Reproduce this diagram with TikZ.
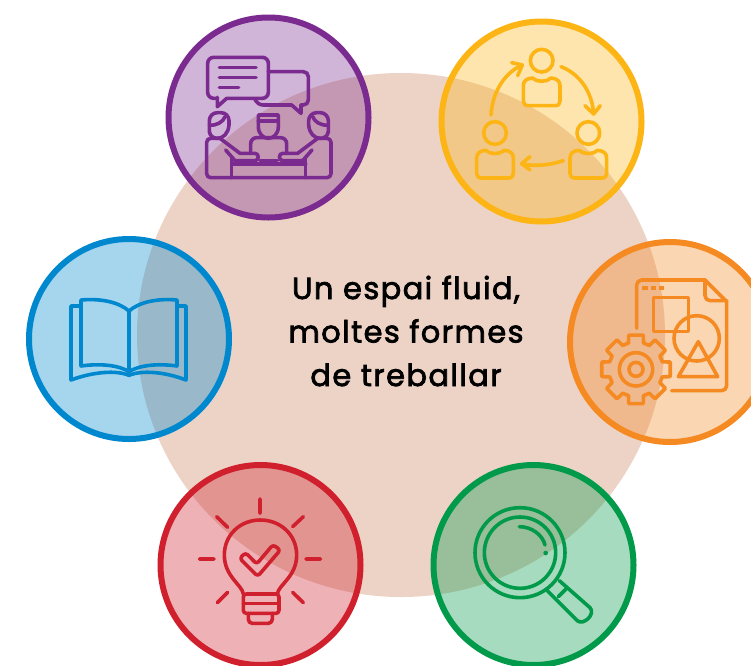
\documentclass[tikz,border=0pt]{standalone}
\usepackage{fontspec}
\setmainfont{Poppins}[FakeBold=2.4,LetterSpace=4.6]
\definecolor{beige}{HTML}{ECD3C6}
\definecolor{cpurple}{HTML}{7B2B90}
\definecolor{cyellow}{HTML}{FDB515}
\definecolor{corange}{HTML}{F58A23}
\definecolor{cred}{HTML}{D0202E}
\definecolor{cgreen}{HTML}{009A4A}
\definecolor{cblue}{HTML}{0088CF}
\tikzset{
  disc/.style={draw=#1,line width=6pt,fill=none},
  tint/.style={fill=#1,fill opacity=.35,draw=none},
  icon/.style={draw=#1,line width=3.6pt,line join=round,line cap=round},
}
\begin{document}
\begin{tikzpicture}[x=1pt,y=-1pt]
\useasboundingbox (0,0) rectangle (751,665);
\fill[white] (0,0) rectangle (751,665);
\clip (0,0) rectangle (751,665);
\fill[beige] (401,335) ellipse[x radius=264,y radius=262];

% tinted discs
\foreach \cx/\cy/\c in {268.5/117.5/cpurple,541.5/121.5/cyellow,670/342/corange,260.5/565/cred,533.5/565/cgreen,129/339/cblue}{
  \fill[tint=\c] (\cx,\cy) circle[radius=100];
  \draw[disc=\c] (\cx,\cy) circle[radius=100];
}

% purple: meeting
\begin{scope}[xshift=160pt,yshift=-10pt,x=0.33333pt,y=-0.33333pt,icon=cpurple]
  \draw[rounded corners=6pt] (172,265) -- (143,265) -- (143,142) -- (325,142) -- (325,265) -- (200,265);
  \draw (172,262) -- (172,290) -- (200,265);
  \draw (178,172) -- (288,172) (178,202) -- (288,202) (178,232) -- (236,232);
  \draw[rounded corners=5pt] (325,185) -- (445,185) -- (445,285) -- (423,285);
  \draw (423,285) -- (423,310) -- (395,285) -- (310,285) .. controls (298,285) and (290,278) .. (285,268);
  % left head
  \draw[rounded corners=8pt] (148,365) -- (148,308) -- (207,308) -- (207,345);
  \draw (207,345) .. controls (205,370) and (190,385) .. (172,385) .. controls (160,385) and (150,378) .. (148,365);
  \draw (148,345) .. controls (170,348) and (190,335) .. (195,320);
  % right head
  \draw[rounded corners=8pt] (505,365) -- (505,308) -- (446,308) -- (446,345);
  \draw (446,345) .. controls (448,370) and (463,385) .. (481,385) .. controls (493,385) and (503,378) .. (505,365);
  \draw (505,345) .. controls (483,348) and (463,335) .. (458,320);
  % centre head
  \draw (295,315) -- (355,315) -- (355,350) .. controls (355,372) and (340,385) .. (325,385) .. controls (310,385) and (295,372) .. (295,350) -- cycle;
  \draw (295,333) -- (355,333);
  % bodies
  \draw (180,385) -- (240,430) -- (285,430) .. controls (298,430) and (298,452) .. (285,452) -- (225,452) -- (197,420);
  \draw[rounded corners=4pt] (180,385) -- (140,385) -- (140,503) -- (513,503) -- (513,385) -- (473,385);
  \draw (473,385) -- (413,430) -- (368,430) .. controls (355,430) and (355,452) .. (368,452) -- (428,452) -- (456,420);
  \draw[rounded corners=6pt] (272,430) -- (272,383) -- (380,383) -- (380,430);
  \draw (300,452) -- (352,452);
  \draw (215,440) -- (215,503) (437,440) -- (437,503) (215,462) -- (437,462);
\end{scope}

% yellow: people cycle
\begin{scope}[xshift=435pt,yshift=-15pt,x=0.33333pt,y=-0.33333pt,icon=cyellow]
  \foreach \dx/\dy/\hx/\hy in {0/0/320/137,-140/217/180/354,140/217/460/354}{
    \draw (\hx,\hy) circle[radius=34];
    \begin{scope}[xshift=\dx*0.33333pt,yshift=-\dy*0.33333pt]
      \draw (280,272) .. controls (270,272) and (265,267) .. (265,258) -- (265,212) .. controls (265,198) and (275,190) .. (292,189) .. controls (305,202) and (335,202) .. (348,189) .. controls (365,190) and (375,198) .. (375,212) -- (375,258) .. controls (375,267) and (370,272) .. (360,272) -- cycle;
    \end{scope}
  }
  \draw (168,300) .. controls (172,235) and (205,175) .. (262,150);
  \draw (230,143) -- (262,150) -- (248,182);
  \draw (378,155) .. controls (430,175) and (470,225) .. (476,295);
  \draw (450,272) -- (476,297) -- (496,272);
  \draw (385,437) .. controls (345,450) and (305,455) .. (262,447);
  \draw (285,425) -- (260,446) -- (285,465);
\end{scope}

% orange: document and gear
\begin{scope}[xshift=565pt,yshift=-235pt,x=0.33333pt,y=-0.33333pt,icon=corange]
  \draw[rounded corners=5pt] (215,280) -- (215,135) -- (420,135);
  \draw (420,135) -- (485,200);
  \draw[rounded corners=5pt] (485,200) -- (485,467) -- (320,467);
  \draw[rounded corners=5pt] (420,135) -- (420,197) -- (485,197);
  \draw[line width=4pt,line cap=butt] (232,160) -- (248,160) (257,160) -- (273,160) (282,160) -- (298,160);
  \draw (265,187) rectangle (370,290);
  \draw (395,310) circle[radius=68];
  \draw (400,320) -- (458,425) -- (340,425) -- cycle;
  \begin{scope}[xshift=71pt,yshift=-134.33pt]
    \draw (-16:82) \foreach \a in {0,45,...,315}{ -- (\a-16:82) -- (\a-12:105) -- (\a+12:105) -- (\a+16:82) } -- cycle;
    \draw (0,0) circle[radius=50];
    \draw (0,0) circle[radius=21];
  \end{scope}
\end{scope}

% red: bulb
\begin{scope}[xshift=155pt,yshift=-460pt,x=0.33333pt,y=-0.33333pt,icon=cred]
  \draw (265,402) .. controls (262,375) and (208,350) .. (208,285) .. controls (208,225) and (255,180) .. (316,180) .. controls (377,180) and (425,225) .. (425,285) .. controls (425,350) and (370,375) .. (367,402);
  \draw[rounded corners=3pt] (265,402) -- (265,460) -- (372,460) -- (372,402) -- cycle;
  \draw (265,431) -- (372,431);
  \draw[rounded corners=4pt] (280,460) -- (280,490) -- (352,490) -- (352,460);
  \draw (315,117) -- (315,160) (185,170) -- (218,202) (445,170) -- (413,200) (133,297) -- (177,297) (453,297) -- (497,297) (187,428) -- (218,397) (445,428) -- (413,397);
  \draw[rounded corners=3pt] (254,295) -- (272,278) -- (305,312) -- (354,254) -- (376,270) -- (308,349) -- cycle;
\end{scope}

% green: magnifier
\begin{scope}[xshift=430pt,yshift=-460pt,x=0.33333pt,y=-0.33333pt,icon=cgreen]
  \draw (270,278) circle[radius=135];
  \draw (270,278) circle[radius=107];
  \draw (268,200) .. controls (305,200) and (338,225) .. (345,255);
  \fill[cgreen] (347,279) circle[radius=7];
  \draw (352,392) -- (442,482) .. controls (460,498) and (498,462) .. (480,443) -- (388,362);
  \draw (385,410) -- (410,385);
\end{scope}

% blue: book
\begin{scope}[xshift=20pt,yshift=-230pt,x=0.33333pt,y=-0.33333pt,icon=cblue]
  \draw (327,243) .. controls (295,215) and (240,205) .. (183,210) -- (183,408) .. controls (240,400) and (295,405) .. (327,425);
  \draw (327,243) .. controls (359,215) and (414,205) .. (471,210) -- (471,408) .. controls (414,400) and (359,405) .. (327,425);
  \draw (327,243) -- (327,432);
  \draw (183,228) -- (153,228) -- (153,450) .. controls (220,425) and (290,420) .. (327,436) .. controls (364,420) and (434,425) .. (498,450) -- (498,228) -- (471,228);
\end{scope}

\node[align=center,inner sep=0pt,font=\fontsize{30.5}{43.5}\selectfont] (title) at (406,331) {Un espai fluid,\\moltes formes\\de treballar};
\end{tikzpicture}
\end{document}
